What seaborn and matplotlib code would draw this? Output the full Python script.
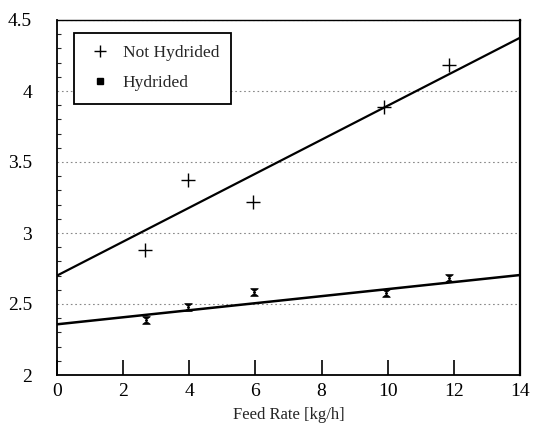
import matplotlib
matplotlib.use("Agg")
import matplotlib.pyplot as plt
import seaborn as sns
import pandas as pd
import numpy as np
from matplotlib.lines import Line2D
from matplotlib.path import Path
from matplotlib.ticker import MultipleLocator

# ---- data ----
feed_nh = [2.66, 3.95, 5.93, 9.89, 11.85]
val_nh = [2.88, 3.37, 3.22, 3.89, 4.18]
feed_h = [2.70, 3.95, 5.95, 9.95, 11.85]
val_h = [2.39, 2.48, 2.585, 2.58, 2.68]
fit_x = [0, 14]
fit_nh = [2.70, 4.375]
fit_h = [2.357, 2.704]
x_ticks = [0, 2, 4, 6, 8, 10, 12, 14]
y_ticks = [2, 2.5, 3, 3.5, 4, 4.5]
y_tick_labels = ["2", "2.5", "3", "3.5", "4", "4.5"]

sns.set_style("white")
plt.rcParams['font.family'] = ['Liberation Serif', 'DejaVu Serif']

fig = plt.figure(figsize=(5.34, 4.34), dpi=100)
ax = fig.add_axes([57/534, 59/434, 463/534, 355/434])

df_pts_nh = pd.DataFrame({"x": feed_nh, "y": val_nh})
df_pts_h = pd.DataFrame({"x": feed_h, "y": val_h})
df_fit_nh = pd.DataFrame({"x": fit_x, "y": fit_nh})
df_fit_h = pd.DataFrame({"x": fit_x, "y": fit_h})

sns.lineplot(data=df_fit_nh, x="x", y="y", ax=ax, color="black", lw=1.6)
sns.lineplot(data=df_fit_h, x="x", y="y", ax=ax, color="black", lw=1.8)

hourglass = Path([(-1, 1), (1, 1), (-0.3, 0), (1, -1), (-1, -1), (0.3, 0), (-1, 1)],
                 [Path.MOVETO] + [Path.LINETO] * 5 + [Path.CLOSEPOLY])

sns.scatterplot(data=df_pts_nh, x="x", y="y", ax=ax, marker="+", s=90,
                color="black", linewidth=1.0, zorder=5)
sns.scatterplot(data=df_pts_h, x="x", y="y", ax=ax, marker=hourglass, s=30,
                color="black", edgecolor="black", linewidth=0.6, zorder=5)

ax.set_xlim(0, 14)
ax.set_ylim(2, 4.5)
ax.set_xticks(x_ticks)
ax.set_yticks(y_ticks)
ax.set_yticklabels(y_tick_labels)
ax.yaxis.set_minor_locator(MultipleLocator(0.1))
ax.tick_params(axis="x", direction="in", length=11, width=1.2, labelsize=14, pad=6,
               colors="black")
ax.tick_params(axis="y", which="major", direction="in", length=6, width=0.8,
               labelsize=14, pad=18, colors="black")
ax.tick_params(axis="y", which="minor", direction="in", length=3, width=0.8, left=True)
ax.tick_params(axis="x", which="major", bottom=True)
for lab in ax.get_xticklabels() + ax.get_yticklabels():
    lab.set_color("black")

ax.yaxis.grid(True, linestyle=(0, (1.5, 2.5)), color="#888888", lw=0.8)
ax.xaxis.grid(False)

for side in ["left", "bottom", "right", "top"]:
    ax.spines[side].set_visible(True)
    ax.spines[side].set_color("black")
ax.spines["left"].set_linewidth(1.3)
ax.spines["bottom"].set_linewidth(1.3)
ax.spines["right"].set_linewidth(1.6)
ax.spines["top"].set_linewidth(1.0)

ax.set_xlabel("Feed Rate [kg/h]", fontsize=12, labelpad=5)
ax.set_ylabel("")

handles = [
    Line2D([], [], marker="+", color="black", linestyle="none", markersize=9, mew=1.0),
    Line2D([], [], marker="s", color="black", linestyle="none", markersize=4),
]
leg = ax.legend(handles, ["Not Hydrided", "Hydrided"], loc="upper left",
                bbox_to_anchor=(0.037, 0.963), fontsize=12.5, frameon=True,
                fancybox=False, edgecolor="black", framealpha=1,
                borderpad=0.7, labelspacing=0.8, handletextpad=0.5,
                handlelength=1.6, borderaxespad=0)
leg.get_frame().set_linewidth(1.3)

fig.savefig("out.png", dpi=100)
